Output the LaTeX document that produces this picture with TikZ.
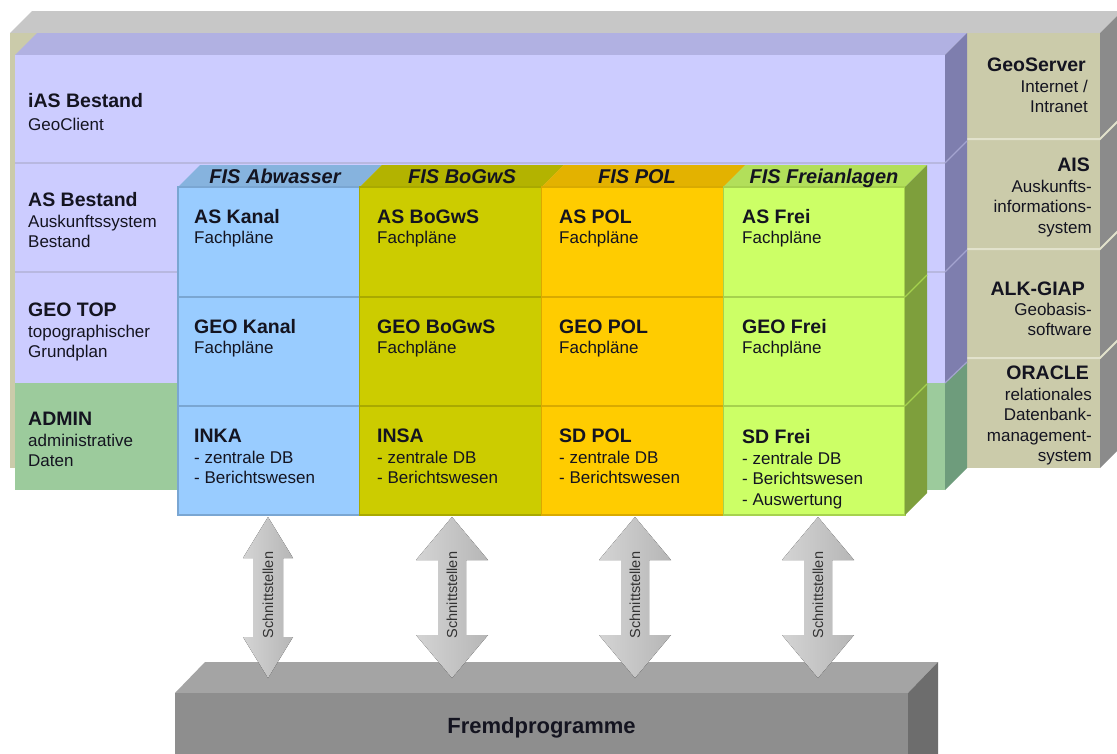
\documentclass[tikz,border=0pt]{standalone}
\usepackage{fontspec}
\setmainfont{Liberation Sans}

\definecolor{txt}{HTML}{141420}
\definecolor{backtop}{HTML}{C7C7C7}
\definecolor{backside}{HTML}{8B8B8B}
\definecolor{khaki}{HTML}{CBCBAA}
\definecolor{khakiline}{HTML}{E2E2CC}
\definecolor{lilac}{HTML}{CCCCFF}
\definecolor{lilactop}{HTML}{B1B1E2}
\definecolor{lilacside}{HTML}{7E7EAE}
\definecolor{lilacline}{HTML}{B8B8E0}
\definecolor{lilacedge}{HTML}{A4A4D0}
\definecolor{admin}{HTML}{9CCB9C}
\definecolor{adminside}{HTML}{6E9C7C}
\definecolor{abw}{HTML}{99CCFF}
\definecolor{abwtop}{HTML}{86B3DE}
\definecolor{abwline}{HTML}{7AA6D2}
\definecolor{bog}{HTML}{CCCC00}
\definecolor{bogtop}{HTML}{B3B300}
\definecolor{bogline}{HTML}{A9A900}
\definecolor{pol}{HTML}{FFCC00}
\definecolor{poltop}{HTML}{E3B200}
\definecolor{polline}{HTML}{D9AA00}
\definecolor{frei}{HTML}{CCFF66}
\definecolor{freitop}{HTML}{B2DF5A}
\definecolor{freiside}{HTML}{7E9F3C}
\definecolor{freiline}{HTML}{A6D24E}
\definecolor{fremdtop}{HTML}{A4A4A4}
\definecolor{fremd}{HTML}{8E8E8E}
\definecolor{fremdside}{HTML}{6D6D6D}
\definecolor{arrowlight}{HTML}{D4D4D4}
\definecolor{arrowdark}{HTML}{B6B6B6}
\definecolor{arrowtxt}{HTML}{333333}

\newcommand\lblbold{\fontsize{19.5}{23}\selectfont\bfseries}
\newcommand\lblreg{\fontsize{17}{20.5}\selectfont}

% double block arrow: x centre, head half width, shaft half width, head length
\newcommand\ifacearrow[4]{%
  \fill[left color=arrowlight, right color=arrowdark]
    (#1,517) -- (#1+#2,517+#4) -- (#1+#3,517+#4) -- (#1+#3,678-#4)
    -- (#1+#2,678-#4) -- (#1,678) -- (#1-#2,678-#4) -- (#1-#3,678-#4)
    -- (#1-#3,517+#4) -- (#1-#2,517+#4) -- cycle;}

\begin{document}
\begin{tikzpicture}[x=1pt,y=-1pt,
  % multi-line labels are placed by the baseline of their last line
  title/.style={anchor=base west,inner sep=0,text=txt,font=\lblbold},
  sub/.style={anchor=base west,inner sep=0,text=txt,font=\lblreg,align=left},
  rtitle/.style={anchor=base east,inner sep=0,text=txt,font=\lblbold},
  rsub/.style={anchor=base east,inner sep=0,text=txt,font=\lblreg,align=right},
  head/.style={anchor=base,inner sep=0,text=txt,font=\fontsize{20}{24}\selectfont\bfseries\itshape},
  ifacetext/.style={rotate=90,inner sep=0,text=arrowtxt,font=\fontsize{14.5}{17}\selectfont},
]
\useasboundingbox (0,0) rectangle (1117,753);
\clip (0,0) rectangle (1117,753);
\fill[white] (0,0) rectangle (1117,753);

% back block (server column)
\fill[backtop] (10,33) -- (1100,33) -- (1122,11) -- (32,11) -- cycle;
\fill[khaki] (10,33) rectangle (1100,468);
\fill[backside] (1100,33) -- (1122,11) -- (1122,446) -- (1100,468) -- cycle;
\foreach \yy in {139,249,358}
  \draw[khakiline, line width=2] (967,\yy) -- (1100,\yy) -- (1122,\yy-22);

% lilac block
\fill[lilactop] (15,55) -- (945,55) -- (967,33) -- (37,33) -- cycle;
\fill[lilac] (15,55) rectangle (945,383);
\fill[lilacside] (945,55) -- (967,33) -- (967,362) -- (945,383) -- cycle;
\foreach \yy in {163,272} {
  \draw[lilacline, line width=2] (15,\yy) -- (945,\yy);
  \draw[lilacedge, line width=1.2] (945,\yy) -- (967,\yy-22);
}

% admin block
\fill[admin] (15,383) rectangle (945,490);
\fill[adminside] (945,383) -- (967,362) -- (967,468) -- (945,490) -- cycle;
\draw[lilacedge, line width=1.2] (945,383) -- (967,362);

% FIS columns
\foreach \i/\xa/\f/\t/\l/\hx/\hd in {
  1/178/abw/abwtop/abwline/275/FIS Abwasser,
  2/359.75/bog/bogtop/bogline/462/FIS BoGwS,
  3/541.5/pol/poltop/polline/637/FIS POL,
  4/723.25/frei/freitop/freiline/824/FIS Freianlagen} {
  \fill[\t] (\xa,187) -- (\xa+181.75,187) -- (\xa+203.75,165) -- (\xa+22,165) -- cycle;
  \fill[\f] (\xa,187) rectangle (\xa+181.75,515);
  \draw[\l, line width=1.2] (\xa,187) rectangle (\xa+181.75,515);
  \draw[\l, line width=1.5] (\xa,297) -- (\xa+181.75,297) (\xa,406) -- (\xa+181.75,406);
  \node[head] (hd\i) at (\hx,183) {\hd};
}
\fill[freiside] (905,187) -- (927,165) -- (927,493) -- (905,515) -- cycle;
\draw[freiline, line width=1.2] (905,297) -- (927,275) (905,406) -- (927,384);

% left layer labels
\node[title] (ias) at (28,107) {iAS Bestand};
\node[sub] (iasSub) at (28,130) {GeoClient};
\node[title] (asb) at (28,206) {AS Bestand};
\node[sub] (asbSub) at (28,247.5) {Auskunftssystem\\Bestand};
\node[title] (geotop) at (28,316) {GEO TOP};
\node[sub] (geotopSub) at (28,357.5) {topographischer\\Grundplan};
\node[title] (admin) at (28,425) {ADMIN};
\node[sub] (adminSub) at (28,466.5) {administrative\\Daten};

% right server labels
\node[rtitle] (geoserver) at (1086,71) {GeoServer};
\node[rsub] (geoserverSub) at (1088,112.5) {Internet /\\Intranet};
\node[rtitle] (ais) at (1090,171) {AIS};
\node[rsub] (aisSub) at (1092,233) {Auskunfts-\\informations-\\system};
\node[rtitle] (alk) at (1085,295) {ALK-GIAP};
\node[rsub] (alkSub) at (1092,335.5) {Geobasis-\\software};
\node[rtitle] (oracle) at (1089,379) {ORACLE};
\node[rsub] (oracleSub) at (1092,461.5) {relationales\\Datenbank-\\management-\\system};

% cells: Abwasser
\node[title] (asKanal) at (194,223) {AS Kanal};
\node[sub] (asKanalSub) at (194,243) {Fachpläne};
\node[title] (geoKanal) at (194,333) {GEO Kanal};
\node[sub] (geoKanalSub) at (194,353) {Fachpläne};
\node[title] (inka) at (194,442) {INKA};
\node[sub] (inkaSub) at (194,483.5) {- zentrale DB\\- Berichtswesen};
% cells: BoGwS
\node[title] (asBog) at (377,223) {AS BoGwS};
\node[sub] (asBogSub) at (377,243) {Fachpläne};
\node[title] (geoBog) at (377,333) {GEO BoGwS};
\node[sub] (geoBogSub) at (377,353) {Fachpläne};
\node[title] (insa) at (377,442) {INSA};
\node[sub] (insaSub) at (377,483.5) {- zentrale DB\\- Berichtswesen};
% cells: POL
\node[title] (asPol) at (559,223) {AS POL};
\node[sub] (asPolSub) at (559,243) {Fachpläne};
\node[title] (geoPol) at (559,333) {GEO POL};
\node[sub] (geoPolSub) at (559,353) {Fachpläne};
\node[title] (sdPol) at (559,442) {SD POL};
\node[sub] (sdPolSub) at (559,483.5) {- zentrale DB\\- Berichtswesen};
% cells: Freianlagen
\node[title] (asFrei) at (742,223) {AS Frei};
\node[sub] (asFreiSub) at (742,243) {Fachpläne};
\node[title] (geoFrei) at (742,333) {GEO Frei};
\node[sub] (geoFreiSub) at (742,353) {Fachpläne};
\node[title] (sdFrei) at (742,443) {SD Frei};
\node[sub] (sdFreiSub) at (742,505) {- zentrale DB\\- Berichtswesen\\- Auswertung};

% external programs block
\fill[fremdtop] (175,693) -- (908,693) -- (938,662) -- (205,662) -- cycle;
\fill[fremd] (175,693) rectangle (908,760);
\fill[fremdside] (908,693) -- (938,662) -- (938,760) -- (908,760) -- cycle;
\node[inner sep=0, text=txt, font=\fontsize{22}{26}\selectfont\bfseries] (fremdprog) at (541.5,728) {Fremdprogramme};

% interfaces
\ifacearrow{268}{25}{15}{41}
\ifacearrow{452}{36}{14}{43}
\ifacearrow{635}{36}{14}{43}
\ifacearrow{818}{36}{14}{43}
\node[ifacetext] (if1) at (268,595) {Schnittstellen};
\node[ifacetext] (if2) at (452,595) {Schnittstellen};
\node[ifacetext] (if3) at (635,595) {Schnittstellen};
\node[ifacetext] (if4) at (818,595) {Schnittstellen};
\end{tikzpicture}
\end{document}
